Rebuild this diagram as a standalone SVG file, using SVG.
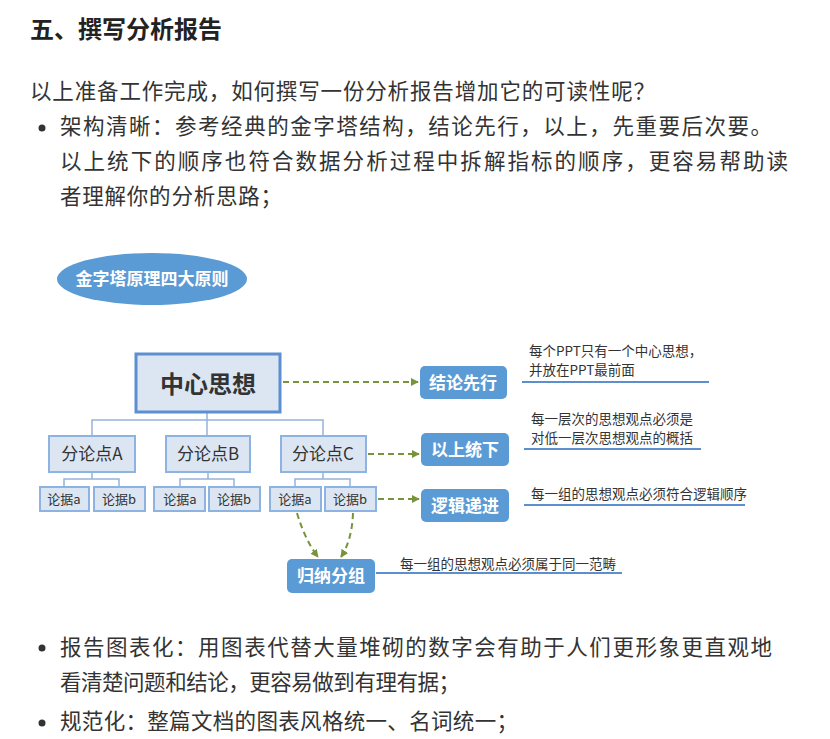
<svg xmlns="http://www.w3.org/2000/svg" width="830" height="739" viewBox="0 0 830 739">
<defs>
<marker id="ah" viewBox="0 0 10 10" refX="9" refY="5" markerWidth="4" markerHeight="4" orient="auto"><path d="M0,0L10,5L0,10z" fill="#77933c"/></marker>
<style>
text{font-family:"Noto Sans CJK SC","Liberation Sans",sans-serif}
.body{font-size:21.5px;fill:#333}
.mid{fill:#dce6f2;stroke:#8db3e2;stroke-width:2}
.blue{fill:#5b9bd5}
.wt{fill:#fff;font-weight:bold;font-size:17px;text-anchor:middle}
.bt{fill:#333;font-size:17px;text-anchor:middle}
.st{fill:#333;font-size:13px;text-anchor:middle}
.nt{fill:#333;font-size:13.5px}
.tree{fill:none;stroke:#95b3d7;stroke-width:1.5}
.ul{stroke:#5b8fd0;stroke-width:2}
.da{fill:none;stroke:#77933c;stroke-width:2;stroke-dasharray:6,4;marker-end:url(#ah)}
</style>
</defs>
<rect width="830" height="739" fill="#fff"/>
<text x="30" y="38" font-size="24" font-weight="bold" fill="#222">五、撰写分析报告</text>
<text class="body" x="30" y="99" textLength="625">以上准备工作完成，如何撰写一份分析报告增加它的可读性呢？</text>
<circle cx="42" cy="128" r="3.5" fill="#333"/>
<text class="body" x="60" y="134" textLength="712">架构清晰：参考经典的金字塔结构，结论先行，以上，先重要后次要。</text>
<text class="body" x="60" y="169" textLength="728">以上统下的顺序也符合数据分析过程中拆解指标的顺序，更容易帮助读</text>
<text class="body" x="60" y="204" textLength="222">者理解你的分析思路；</text>

<g id="title-ellipse"><ellipse cx="152" cy="279" rx="95" ry="26" class="blue"/><text class="wt" x="152" y="285">金字塔原理四大原则</text></g>

<g id="connectors">
<path class="tree" d="M207,413V420M92,436V420H323V436M207,420V436"/>
<path class="tree" d="M92,472V479M64,486V479H119V486M208,472V479M180,486V479H234V486M323,472V479M295,486V479H350V486"/>
<path class="da" d="M283,382H418"/>
<path class="da" d="M368,454H419"/>
<path class="da" d="M378,499H419"/>
<path class="da" d="M297,513Q305,540 318,557"/>
<path class="da" d="M353,513Q352,540 341,557"/>
<path class="ul" d="M522,382H709M524,449H701M524,505H745M376,573H622"/>
</g>

<g id="center"><rect x="136" y="354" width="144" height="58" fill="#dce6f2" stroke="#5b8fd0" stroke-width="3"/><text x="208" y="393" font-size="24" font-weight="bold" fill="#333" text-anchor="middle">中心思想</text></g>
<g id="pA"><rect class="mid" x="49" y="436" width="86" height="36"/><text class="bt" x="92" y="460">分论点A</text></g>
<g id="pB"><rect class="mid" x="166" y="436" width="84" height="36"/><text class="bt" x="208" y="460">分论点B</text></g>
<g id="pC"><rect class="mid" x="281" y="436" width="85" height="36"/><text class="bt" x="323" y="460">分论点C</text></g>
<g id="A-a"><rect class="mid" x="40" y="487" width="49" height="24"/><text class="st" x="64" y="504">论据a</text></g>
<g id="A-b"><rect class="mid" x="94" y="487" width="51" height="24"/><text class="st" x="119" y="504">论据b</text></g>
<g id="B-a"><rect class="mid" x="154" y="487" width="51" height="24"/><text class="st" x="180" y="504">论据a</text></g>
<g id="B-b"><rect class="mid" x="209" y="487" width="51" height="24"/><text class="st" x="234" y="504">论据b</text></g>
<g id="C-a"><rect class="mid" x="270" y="487" width="51" height="24"/><text class="st" x="295" y="504">论据a</text></g>
<g id="C-b"><rect class="mid" x="325" y="487" width="51" height="24"/><text class="st" x="350" y="504">论据b</text></g>

<g id="r1"><rect class="blue" x="420" y="366" width="87" height="33" rx="5"/><text class="wt" x="463" y="389">结论先行</text></g>
<g id="r2"><rect class="blue" x="421" y="433" width="88" height="33" rx="5"/><text class="wt" x="465" y="456">以上统下</text></g>
<g id="r3"><rect class="blue" x="421" y="489" width="88" height="33" rx="5"/><text class="wt" x="465" y="512">逻辑递进</text></g>
<g id="r4"><rect class="blue" x="287" y="559" width="88" height="34" rx="5"/><text class="wt" x="331" y="582">归纳分组</text></g>

<text class="nt" x="529" y="356">每个PPT只有一个中心思想，</text>
<text class="nt" x="529" y="375">并放在PPT最前面</text>
<text class="nt" x="531" y="424">每一层次的思想观点必须是</text>
<text class="nt" x="531" y="443">对低一层次思想观点的概括</text>
<text class="nt" x="531" y="499">每一组的思想观点必须符合逻辑顺序</text>
<text class="nt" x="400" y="569">每一组的思想观点必须属于同一范畴</text>

<circle cx="42" cy="648" r="3.5" fill="#333"/>
<text class="body" x="60" y="655" textLength="712">报告图表化：用图表代替大量堆砌的数字会有助于人们更形象更直观地</text>
<text class="body" x="60" y="690" textLength="400">看清楚问题和结论，更容易做到有理有据；</text>
<circle cx="42" cy="723" r="3.5" fill="#333"/>
<text class="body" x="60" y="729" textLength="458">规范化：整篇文档的图表风格统一、名词统一；</text>
</svg>
